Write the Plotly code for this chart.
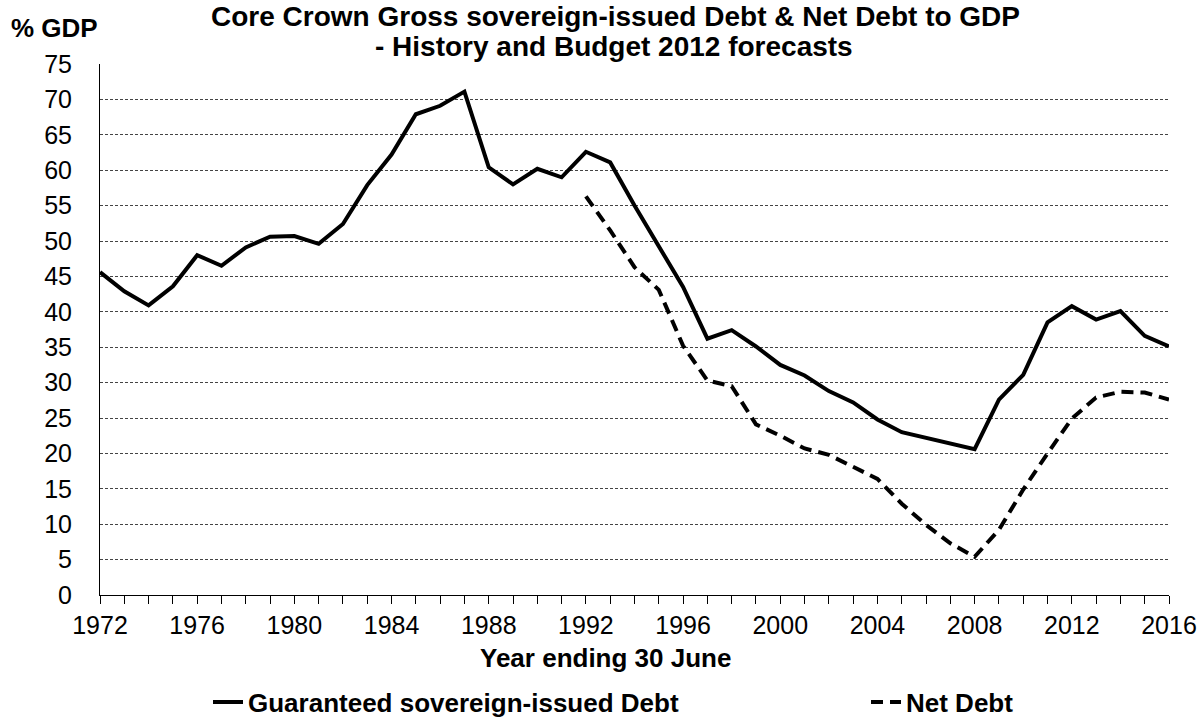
import plotly.graph_objects as go

years = list(range(1972, 2017))
gross_debt = [45.6, 42.9, 40.9, 43.6, 48.0, 46.5, 49.1, 50.6, 50.7, 49.6,
              52.4, 57.9, 62.2, 67.9, 69.1, 71.1, 60.4, 58.0, 60.2, 59.0,
              62.6, 61.1, 55.0, 49.3, 43.5, 36.2, 37.4, 35.1, 32.5, 31.0,
              28.8, 27.2, 24.8, 23.0, 22.2, 21.5, 20.6, 27.6, 31.1, 38.5,
              40.8, 38.9, 40.1, 36.6, 35.1]
net_years = list(range(1992, 2017))
net_debt = [56.3, 51.5, 46.3, 43.1, 35.2, 30.3, 29.5, 24.1, 22.5, 20.7,
            19.8, 18.1, 16.4, 12.9, 9.9, 7.3, 5.4, 9.2, 14.9, 20.0,
            24.9, 27.9, 28.7, 28.6, 27.6]
x_tick_vals = list(range(1972, 2017, 4))
y_tick_vals = list(range(0, 80, 5))

FONT = "Liberation Sans, Arial, sans-serif"
W, H = 1203, 719
L, R, T, B = 100, 1169, 64, 595


def px(x):
    return (x - L) / (R - L)


def py(y):
    return (B - y) / (B - T)


fig = go.Figure()
fig.add_trace(go.Scatter(x=years, y=gross_debt, mode="lines",
                         name="<b>Guaranteed sovereign-issued Debt</b>",
                         line=dict(color="black", width=4), legend="legend"))
fig.add_trace(go.Scatter(x=net_years, y=net_debt, mode="lines",
                         name="<b>Net Debt</b>",
                         line=dict(color="black", width=4, dash="12px,7px"), legend="legend2"))

annots = [
    dict(text="<b>Core Crown Gross sovereign-issued Debt & Net Debt to GDP</b>",
         x=px(615), y=py(17), font=dict(size=28)),
    dict(text="<b>- History and Budget 2012 forecasts</b>",
         x=px(614), y=py(46), font=dict(size=28)),
    dict(text="<b>% GDP</b>", x=px(9), y=py(28), xanchor="left", font=dict(size=26)),
    dict(text="<b>Year ending 30 June</b>", x=px(605), y=py(658), font=dict(size=26)),
]
for a in annots:
    a.setdefault("xanchor", "center")
    a.update(xref="paper", yref="paper", yanchor="middle", showarrow=False)
    a["font"]["family"] = FONT

legend_common = dict(orientation="h", xanchor="left", y=py(702), yanchor="middle",
                     font=dict(size=26, family=FONT), itemwidth=30,
                     bgcolor="rgba(0,0,0,0)")

fig.update_layout(
    width=W, height=H,
    margin=dict(l=L, r=W - R, t=T, b=H - B, autoexpand=False),
    paper_bgcolor="white", plot_bgcolor="white",
    font=dict(family=FONT, color="black", size=25),
    showlegend=True,
    legend=dict(x=px(208), **legend_common),
    legend2=dict(x=px(866), **legend_common),
    annotations=annots,
)

fig.update_xaxes(
    range=[1972, 2016], tickvals=x_tick_vals, ticktext=[str(v) for v in x_tick_vals],
    ticks="outside", ticklen=8, tickcolor="black", tickwidth=1,
    minor=dict(dtick=1, tick0=1972, ticks="outside", ticklen=8, tickcolor="black", showgrid=False),
    showline=True, linecolor="black", linewidth=1,
    showgrid=False, zeroline=False, automargin=False,
    tickfont=dict(size=25), ticklabelstandoff=0,
)
fig.update_yaxes(
    range=[0, 75], tickvals=y_tick_vals,
    showline=True, linecolor="black", linewidth=1,
    showgrid=True, gridcolor="#444444", gridwidth=1, griddash="3px,2px",
    zeroline=False, ticks="", tickfont=dict(size=25), ticklabelstandoff=22,
    automargin=False,
)

fig.write_html("out.html")
